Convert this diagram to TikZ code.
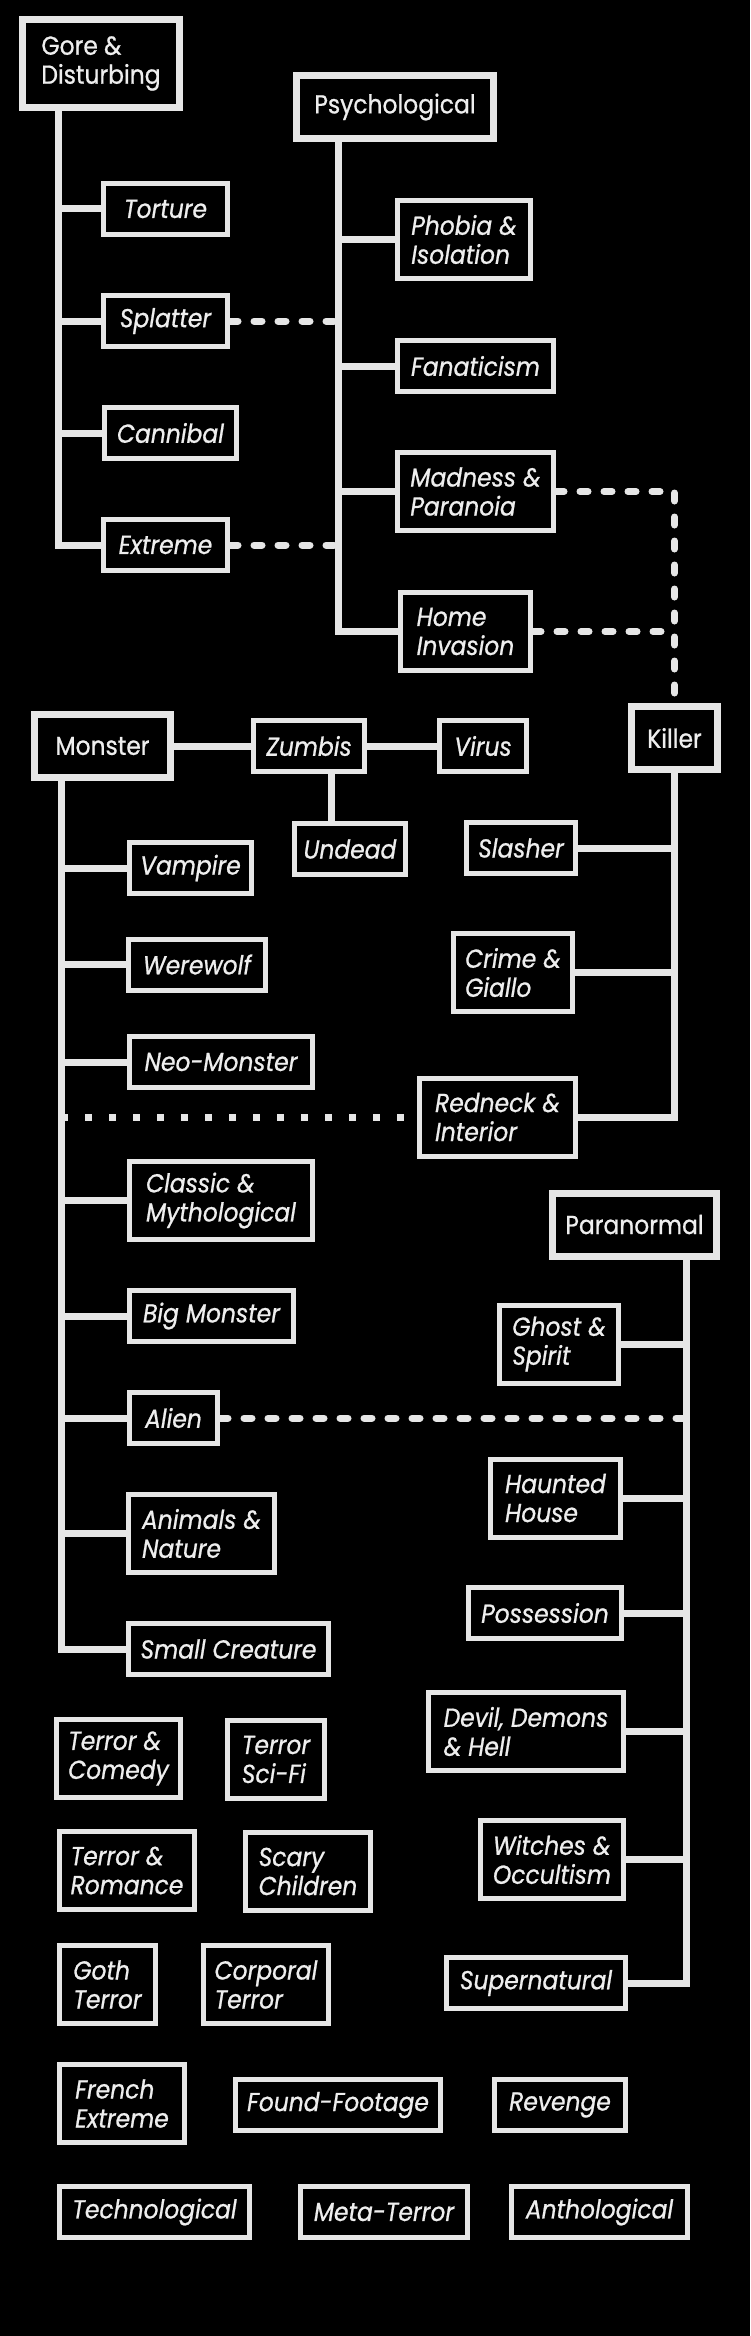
\documentclass[tikz,border=0pt]{standalone}
\usepackage{fontspec}
\setmainfont{Poppins}[FakeStretch=0.9, FakeBold=0.8]
\usepackage{tikz}
\usetikzlibrary{positioning}
\definecolor{boneline}{HTML}{E6E6E6}
\definecolor{bonetext}{HTML}{EEEEEE}

\begin{document}
\begin{tikzpicture}[x=1pt,y=-1pt,
    genre/.style={draw=boneline, line width=5pt, text=bonetext, align=left, inner sep=0pt,
        minimum height=51pt, font=\fontsize{26}{29}\selectfont\itshape},
    genre2/.style={genre, minimum height=78pt},
    family/.style={genre, line width=7pt, minimum height=63pt, font=\fontsize{26}{29}\selectfont},
    link/.style={boneline, line width=7pt},
    dashlink/.style={link, line cap=round, dash pattern=on 8pt off 16pt},
    dotlink/.style={link, dash pattern=on 7pt off 17pt}]
  \fill[black] (0,0) rectangle (750,2336);
  \useasboundingbox (0,0) rectangle (750,2336);

  % families
  \node[family, minimum width=157pt, minimum height=88pt] (gore) at (101,63.5) {Gore \&\\Disturbing};
  \node[family, minimum width=197pt] (psych) at (395,107) {Psychological};
  \node[family, minimum width=136pt] (monster) at (102.5,746) {Monster};
  \node[family, minimum width=86pt] (killer) at (674.5,738) {Killer};
  \node[family, minimum width=164pt] (paranormal) at (634.5,1224.5) {Paranormal};

  % gore & disturbing
  \node[genre, minimum width=124pt] (torture) at (165.5,209) {Torture};
  \node[genre, minimum width=124pt] (splatter) at (165.5,321) {Splatter};
  \node[genre, minimum width=132pt] (cannibal) at (170.5,433) {Cannibal};
  \node[genre, minimum width=124pt] (extreme) at (165.5,545) {Extreme};

  % psychological
  \node[genre2, minimum width=133pt] (phobia) at (464,239.5) {Phobia \&\\Isolation};
  \node[genre, minimum width=156pt] (fanaticism) at (475.5,366) {Fanaticism};
  \node[genre2, minimum width=156pt] (madness) at (475.5,491.5) {Madness \&\\Paranoia};
  \node[genre2, minimum width=130pt] (homeinv) at (465.5,631.5) {Home\\Invasion};

  % monster
  \node[genre, minimum width=111pt] (zumbis) at (309,746) {Zumbis};
  \node[genre, minimum width=87pt] (virus) at (483,746) {Virus};
  \node[genre, minimum width=111pt] (undead) at (350,849) {Undead};
  \node[genre, minimum width=122pt] (vampire) at (190.5,868) {Vampire};
  \node[genre, minimum width=137pt] (werewolf) at (197,964.5) {Werewolf};
  \node[genre, minimum width=183pt] (neomonster) at (221,1062) {Neo-Monster};
  \node[genre2, minimum width=183pt] (classic) at (221,1200.5) {Classic \&\\Mythological};
  \node[genre, minimum width=164pt] (bigmonster) at (211.5,1316) {Big Monster};
  \node[genre, minimum width=88pt] (alien) at (173.5,1418) {Alien};
  \node[genre2, minimum width=146pt] (animals) at (201.5,1533.5) {Animals \&\\Nature};
  \node[genre, minimum width=200pt] (smallcr) at (228.5,1649) {Small Creature};

  % killer
  \node[genre, minimum width=109pt] (slasher) at (521,848) {Slasher};
  \node[genre2, minimum width=119pt] (crime) at (513,972.5) {Crime \&\\Giallo};
  \node[genre2, minimum width=156pt] (redneck) at (497.5,1117) {Redneck \&\\Interior};

  % paranormal
  \node[genre2, minimum width=119pt] (ghost) at (559,1344) {Ghost \&\\Spirit};
  \node[genre2, minimum width=130pt] (haunted) at (555.5,1498) {Haunted\\House};
  \node[genre, minimum width=153pt] (possession) at (545,1613) {Possession};
  \node[genre2, minimum width=195pt] (devil) at (526,1731.5) {Devil, Demons\\\& Hell};
  \node[genre2, minimum width=143pt] (witches) at (552,1859.5) {Witches \&\\Occultism};
  \node[genre, minimum width=179pt] (supernatural) at (536,1983) {Supernatural};

  % loose genres
  \node[genre2, minimum width=124pt] (comedy) at (118.5,1758.5) {Terror \&\\Comedy};
  \node[genre2, minimum width=97pt] (scifi) at (276,1759.5) {Terror\\Sci-Fi};
  \node[genre2, minimum width=135pt] (romance) at (127,1870.5) {Terror \&\\Romance};
  \node[genre2, minimum width=125pt] (scary) at (308,1871.5) {Scary\\Children};
  \node[genre2, minimum width=96pt] (goth) at (107.5,1984.5) {Goth\\Terror};
  \node[genre2, minimum width=125pt] (corporal) at (266,1984.5) {Corporal\\Terror};
  \node[genre2, minimum width=125pt] (french) at (122,2103.5) {French\\Extreme};
  \node[genre, minimum width=205pt] (found) at (338,2105) {Found-Footage};
  \node[genre, minimum width=131pt] (revenge) at (560,2105) {Revenge};
  \node[genre, minimum width=190pt] (techno) at (154.5,2212) {Technological};
  \node[genre, minimum width=167pt] (meta) at (384,2212) {Meta-Terror};
  \node[genre, minimum width=176pt] (antho) at (599.5,2212) {Anthological};

  % trunks
  \coordinate (goreT) at (58,0);
  \coordinate (psychT) at (338,0);
  \coordinate (monsterT) at (61,0);
  \coordinate (paraT) at (686,0);

  \draw[link] (gore.south -| goreT) |- (extreme.west);
  \foreach \g in {torture,splatter,cannibal}
    \draw[link] (\g.west) -- (\g.west -| goreT);

  \draw[link] (psych.south -| psychT) |- (homeinv.west);
  \foreach \g in {phobia,fanaticism,madness}
    \draw[link] (\g.west) -- (\g.west -| psychT);

  \draw[link] (monster.east) -- (zumbis.west);
  \draw[link] (zumbis.east) -- (virus.west);
  \draw[link] ([xshift=22pt]zumbis.south) -- ([xshift=22pt]zumbis.south |- undead.north);
  \draw[link] (monster.south -| monsterT) |- (smallcr.west);
  \foreach \g in {vampire,werewolf,neomonster,classic,bigmonster,alien,animals}
    \draw[link] (\g.west) -- (\g.west -| monsterT);

  \draw[link] (killer.south) |- (redneck.east);
  \foreach \g in {slasher,crime}
    \draw[link] (\g.east) -- (\g.east -| killer.south);

  \draw[link] (paranormal.south -| paraT) |- (supernatural.east);
  \foreach \g in {ghost,haunted,possession,devil,witches}
    \draw[link] (\g.east) -- (\g.east -| paraT);

  % cross links
  \draw[dashlink] (splatter.east) -- (splatter.east -| psychT);
  \draw[dashlink] (extreme.east) -- (extreme.east -| psychT);
  \draw[dashlink] (madness.east) -| (killer.north);
  \draw[dashlink] (homeinv.east) -- (homeinv.east -| killer.north);
  \draw[dotlink] (redneck.west -| monsterT) -- (redneck.west);
  \draw[dashlink] (alien.east) -- (alien.east -| paraT);
\end{tikzpicture}
\end{document}
